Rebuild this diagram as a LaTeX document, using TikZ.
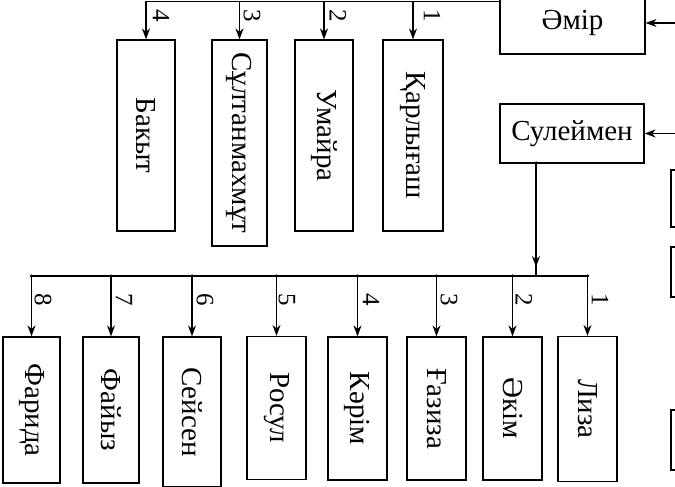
\documentclass[tikz,border=0pt]{standalone}
\usepackage{fontspec}
\setmainfont{Liberation Serif}
\usepackage{graphicx}
\usetikzlibrary{arrows.meta,calc}
\begin{document}
\begin{tikzpicture}[x=1pt,y=-1pt,
  box/.style={draw, line width=1.2pt, inner sep=0pt, font=\fontsize{29}{29}\selectfont},
  conn/.style={line width=1.2pt},
  arr/.style={conn, -{Stealth[length=11pt,width=8pt]}},
  num/.style={font=\fontsize{25}{25}\selectfont, rotate=-90, inner sep=0pt},
  jdot/.style={circle, fill, inner sep=0pt, minimum size=3.5pt}]
\useasboundingbox (0,0) rectangle (675,487);
\clip (0,0) rectangle (675,487);
% top row
\node[box, minimum width=58pt, minimum height=191pt] (bak) at (146,135.5) {\rotatebox{-90}{Бакыт}};
\node[box, minimum width=55pt, minimum height=206pt] (sult) at (239.5,143) {\rotatebox{-90}{Сұлтанмахмұт}};
\node[box, minimum width=58pt, minimum height=191pt] (uma) at (324,135.5) {\rotatebox{-90}{Умайра}};
\node[box, minimum width=60pt, minimum height=191pt] (kar) at (413,135.5) {\rotatebox{-90}{Қарлығаш}};
\node[box, minimum width=145pt, minimum height=62pt] (emir) at (572.5,23) {Әмір};
\node[box, minimum width=144pt, minimum height=59pt] (suleim) at (572,133.5) {Сулеймен};
% partial boxes at the right edge
\node[box, minimum width=60pt, minimum height=57pt] (r1) at (701,198.5) {};
\node[box, minimum width=60pt, minimum height=50pt] (r2) at (701,272) {};
\node[box, minimum width=60pt, minimum height=60pt] (r3) at (701,440) {};
% bottom row
\node[box, minimum width=57pt, minimum height=146pt] (far) at (31.5,410) {\rotatebox{-90}{Фарида}};
\node[box, minimum width=56pt, minimum height=146pt] (fay) at (111,410) {\rotatebox{-90}{Файыз}};
\node[box, minimum width=58pt, minimum height=150pt] (sey) at (192,412) {\rotatebox{-90}{Сейсен}};
\node[box, minimum width=59pt, minimum height=143pt] (ros) at (276.5,408) {\rotatebox{-90}{Росул}};
\node[box, minimum width=59pt, minimum height=143pt] (ker) at (357.5,408.5) {\rotatebox{-90}{Кәрім}};
\node[box, minimum width=59pt, minimum height=143pt] (gaz) at (436.5,408.5) {\rotatebox{-90}{Ғазиза}};
\node[box, minimum width=59pt, minimum height=143pt] (aki) at (512.5,408.5) {\rotatebox{-90}{Әкім}};
\node[box, minimum width=59pt, minimum height=145pt] (liz) at (587.5,409) {\rotatebox{-90}{Лиза}};
% top connectors
\coordinate (top) at (0,1.5);
\draw[conn] (bak.north |- top) -- (emir.west |- top);
\foreach \n in {bak,sult,uma,kar} \draw[arr] (\n.north |- top) -- (\n.north);
\node[num] (t4) at (161,16) {4};
\node[num] (t3) at (252,16) {3};
\node[num] (t2) at (338,16) {2};
\node[num] (t1) at (432,16) {1};
% right incoming arrows
\coordinate (ein) at (690,23);
\coordinate (sin) at (690,133.5);
\draw[arr] (ein) -- (emir.east);
\draw[arr] (sin) -- (suleim.east);
% Suleimen to bus
\coordinate (sd) at (536,163);
\coordinate (bus) at (0,276);
\node[jdot] (sdd) at (sd) {};
\draw[conn] (sd) -- (sd |- bus);
\draw[arr] (sd) -- ($(sd |- bus)+(0,-9)$);
\draw[conn] (far.north |- bus) -- (liz.north |- bus);
\foreach \n in {far,fay,sey,ros,ker,gaz,aki,liz} {
  \draw[arr] (\n.north |- bus) -- (\n.north);
  \node[jdot] at (\n.north |- bus) {};
}
\node[num] (b8) at (43,300) {8};
\node[num] (b7) at (124,300) {7};
\node[num] (b6) at (205,300) {6};
\node[num] (b5) at (287,300) {5};
\node[num] (b4) at (371,300) {4};
\node[num] (b3) at (449,300) {3};
\node[num] (b2) at (524,300) {2};
\node[num] (b1) at (600,300) {1};
\end{tikzpicture}
\end{document}
